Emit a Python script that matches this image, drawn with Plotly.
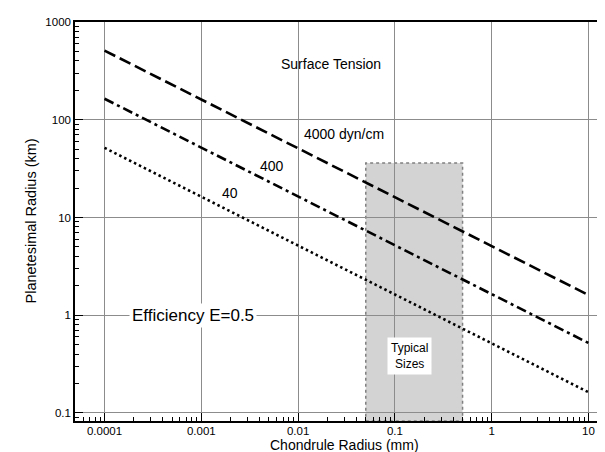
import numpy as np
import plotly.graph_objects as go

# ---- data ----
chondrule_radius_mm = [0.0001, 0.001, 0.01, 0.1, 1, 10]
r_4000 = [510, 161, 51, 16.1, 5.1, 1.61]
r_400 = [164, 52, 16.4, 5.2, 1.64, 0.52]
r_40 = [51.6, 16.3, 5.2, 1.63, 0.52, 0.163]

typical_x = [0.05, 0.5]
typical_y = [0.083, 36]

x_tick_vals = [0.0001, 0.001, 0.01, 0.1, 1, 10]
x_tick_text = ["0.0001", "0.001", "0.01", "0.1", "1", "10"]
y_tick_vals = [0.1, 1, 10, 100, 1000]
y_tick_text = ["0.1", "1", "10", "100", "1000"]

FONT = "Liberation Sans, Arial, Helvetica, sans-serif"
PLOT_W = 605 - 67
PLOT_H = 413 - 14

fig = go.Figure()

line_styles = [
    (r_4000, "12px,5px"),
    (r_400, "10px,4px,3px,4px"),
    (r_40, "2.5px,3px"),
]
for vals, dash in line_styles:
    fig.add_trace(go.Scatter(
        x=chondrule_radius_mm, y=vals, mode="lines",
        line=dict(color="black", width=2.6, dash=dash),
        showlegend=False, hoverinfo="skip"))

# typical sizes region
fig.add_shape(type="rect", xref="x", yref="y",
              x0=typical_x[0], x1=typical_x[1], y0=typical_y[0], y1=typical_y[1],
              fillcolor="#d3d3d3", line=dict(color="#808080", width=1.5, dash="dot"),
              layer="below")

minor_x = [m * 10.0 ** e for e in range(-5, 2) for m in range(2, 10)]
minor_y = [m * 10.0 ** e for e in range(-2, 3) for m in range(2, 10)]

fig.update_xaxes(
    type="log", range=[-4.305, 1.253], automargin=False,
    tickmode="array", tickvals=x_tick_vals, ticktext=x_tick_text,
    ticks="inside", ticklen=8, tickwidth=1.2, tickcolor="black",
    ticklabelstandoff=-2,
    showgrid=True, gridcolor="#8c8c8c", gridwidth=1,
    showline=True, linecolor="black", linewidth=1.5, mirror=True,
    zeroline=False,
    minor=dict(tickmode="array", tickvals=minor_x, ticks="inside", ticklen=4,
               tickcolor="black", tickwidth=1, showgrid=False),
    tickfont=dict(size=11.5, color="black", family=FONT),
)
fig.update_yaxes(
    type="log", range=[-1.082, 3], automargin=False,
    tickmode="array", tickvals=y_tick_vals, ticktext=y_tick_text,
    ticks="inside", ticklen=8, tickwidth=1.2, tickcolor="black",
    showgrid=True, gridcolor="#8c8c8c", gridwidth=1,
    showline=True, linecolor="black", linewidth=1.5, mirror=False,
    zeroline=False,
    minor=dict(tickmode="array", tickvals=minor_y, ticks="inside", ticklen=4,
               tickcolor="black", tickwidth=1, showgrid=False),
    tickfont=dict(size=11.5, color="black", family=FONT),
)

# axis titles
fig.add_annotation(xref="paper", yref="paper", x=(336 - 67) / PLOT_W, y=-(437 - 413) / PLOT_H,
                   text="Chondrule Radius (mm)", showarrow=False,
                   xanchor="center", yanchor="middle",
                   font=dict(size=14, color="black", family=FONT))
fig.add_annotation(xref="paper", yref="paper", x=(22 - 67) / PLOT_W, y=0.5,
                   text="Planetesimal Radius (km)", showarrow=False, textangle=-90,
                   xanchor="center", yanchor="middle",
                   font=dict(size=14.5, color="black", family=FONT))

ann_font = dict(size=14, color="black", family=FONT)
fig.add_annotation(x=np.log10(0.0219), y=np.log10(374), text="Surface Tension",
                   showarrow=False, font=ann_font)
fig.add_annotation(x=np.log10(0.0298), y=np.log10(72), text="4000 dyn/cm",
                   showarrow=False, font=ann_font)
fig.add_annotation(x=np.log10(0.00537), y=np.log10(33.8), text="400",
                   showarrow=False, font=ann_font)
fig.add_annotation(x=np.log10(0.00198), y=np.log10(17.9), text="40",
                   showarrow=False, font=ann_font)
fig.add_annotation(x=np.log10(0.00083), y=0.0, text="Efficiency E=0.5",
                   showarrow=False, font=dict(size=17, color="black", family=FONT),
                   bgcolor="white", borderpad=2)
fig.add_annotation(x=np.log10(0.143), y=np.log10(0.384), text="Typical<br>Sizes",
                   showarrow=False, font=dict(size=12, color="black", family=FONT),
                   bgcolor="white", borderpad=3)

fig.update_layout(
    width=605, height=452,
    margin=dict(l=67, r=0, t=14, b=39),
    paper_bgcolor="white", plot_bgcolor="white",
    font=dict(family=FONT, color="black"),
)

fig.write_html("out.html")
